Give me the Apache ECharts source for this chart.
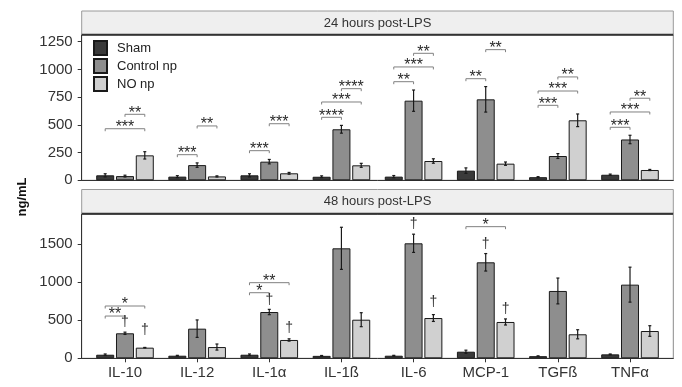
<!DOCTYPE html>
<html>
<head>
<meta charset="utf-8">
<script src="https://cdn.jsdelivr.net/npm/echarts@6/dist/echarts.min.js"></script>
<style>
html,body{margin:0;padding:0;background:#fff;}
#chart{width:682px;height:387px;}
</style>
</head>
<body>
<div id="chart"></div>
<script>
const categories = ['IL-10','IL-12','IL-1α','IL-1ß','IL-6','MCP-1','TGFß','TNFα'];
const groupNames = ['Sham','Control np','NO np'];

// 24 hours post-LPS
const sham24 = [45, 33, 45, 32, 33, 87, 28, 50];
const sham24Err = [14, 9, 14, 8, 10, 25, 5, 6];
const control24 = [38, 137, 168, 460, 718, 730, 219, 368];
const control24Err = [8, 20, 20, 35, 96, 115, 22, 38];
const no24 = [225, 35, 63, 135, 174, 150, 541, 93];
const no24Err = [33, 5, 8, 18, 20, 15, 57, 5];

// 48 hours post-LPS
const sham48 = [47, 34, 47, 32, 34, 87, 28, 52];
const sham48Err = [10, 5, 10, 5, 5, 20, 4, 5];
const control48 = [329, 390, 609, 1447, 1513, 1263, 886, 969];
const control48Err = [15, 115, 35, 277, 120, 115, 170, 230];
const no48 = [140, 148, 241, 508, 530, 478, 316, 359];
const no48Err = [3, 40, 15, 92, 45, 40, 60, 70];

// significance brackets: [category, fromGroup, toGroup, yValue]
const brackets24 = [
  [0,0,2,465],[0,1,2,595],
  [1,0,1,231],[1,1,2,490],
  [2,0,1,267],[2,1,2,510],
  [3,0,1,568],[3,0,2,706],[3,1,2,826],
  [4,0,1,889],[4,0,2,1022],[4,1,2,1145],
  [5,0,1,916],[5,1,2,1178],
  [6,0,1,676],[6,0,2,805],[6,1,2,932],
  [7,0,1,478],[7,0,2,616],[7,1,2,740]
];
const brackets24Labels = ['***','**','***','**','***','***','****','***','****','**','***','**','**','**','***','***','**','***','***','**'];
const brackets48 = [[0,0,1,556],[0,0,2,688],[2,0,1,863],[2,0,2,995],[5,0,2,1732]];
const brackets48Labels = ['**','*','*','**','*'];
// daggers: [category, group, yValue]
const daggers48 = [[0,1,482],[0,2,372],[2,1,767],[2,2,395],[4,1,1767],[4,2,745],[5,1,1504],[5,2,645]];

const yTicks24 = {max:1310, interval:250};
const yTicks48 = {max:1892, interval:500};

const colors = ['#3a3a3a','#8e8e8e','#d0d0d0'];
const BAR_W = 18, GAP = 0.1;
const FONT = 'Liberation Sans, Arial, sans-serif';

const chart = echarts.init(document.getElementById('chart'));

const frameL = 81.7, frameR = 682-673.3;
const unit = (673.3-81.7)/8.2;
const dataL = frameL + 0.1*unit, dataR = frameR + 0.1*unit;
const panels = [{top:35, height:145.3},{top:214.5, height:143.8}];

function offsetOf(g){ return (g-1)*BAR_W*(1+GAP); }

function errSeries(vals, errs, g, xi, yi){
  return {
    type:'custom', xAxisIndex:xi, yAxisIndex:yi, z:5, silent:true,
    data: vals.map((v,i)=>[i, v, errs[i]]),
    renderItem:function(params, api){
      const i = api.value(0), v = api.value(1), e = api.value(2);
      const x = api.coord([i, v])[0] + offsetOf(g);
      const yt = api.coord([i, v+e])[1], yb = api.coord([i, Math.max(v-e,0)])[1];
      return {type:'group', children:[
        {type:'line', shape:{x1:x,y1:yt,x2:x,y2:yb}, style:{stroke:'#1a1a1a',lineWidth:1.2}},
        {type:'line', shape:{x1:x-1.5,y1:yt,x2:x+1.5,y2:yt}, style:{stroke:'#1a1a1a',lineWidth:1.2}},
        {type:'line', shape:{x1:x-1.5,y1:yb,x2:x+1.5,y2:yb}, style:{stroke:'#1a1a1a',lineWidth:1.2}}
      ]};
    }
  };
}

function bracketSeries(br, labels, xi, yi){
  return {
    type:'custom', xAxisIndex:xi, yAxisIndex:yi, z:6, silent:true,
    data: br,
    renderItem:function(params, api){
      const c = api.value(0), f = api.value(1), t = api.value(2), v = api.value(3);
      const base = api.coord([c, v]);
      const x1 = base[0] + offsetOf(f), x2 = base[0] + offsetOf(t), y = base[1];
      return {type:'group', children:[
        {type:'polyline', shape:{points:[[x1,y+2.5],[x1,y],[x2,y],[x2,y+2.5]]}, style:{stroke:'#808080',lineWidth:1,fill:null}},
        {type:'text', style:{text:labels[params.dataIndex], x:(x1+x2)/2, y:y-1, align:'center', verticalAlign:'middle', font:'16px '+FONT, fill:'#2a2a2a'}}
      ]};
    }
  };
}

function daggerSeries(dg, xi, yi){
  return {
    type:'custom', xAxisIndex:xi, yAxisIndex:yi, z:6, silent:true,
    data: dg,
    renderItem:function(params, api){
      const c = api.value(0), g = api.value(1), v = api.value(2);
      const p = api.coord([c, v]);
      return {type:'text', style:{text:'†', x:p[0]+offsetOf(g), y:p[1], align:'center', verticalAlign:'middle', font:'14px '+FONT, fill:'#333'}};
    }
  };
}

function barSeries(name, vals, g, xi, yi){
  return {
    name:name, type:'bar', xAxisIndex:xi, yAxisIndex:yi, data:vals,
    barWidth:BAR_W, barGap:(GAP*100)+'%',
    itemStyle:{color:colors[g], borderColor:'#1a1a1a', borderWidth:1},
    silent:true
  };
}

function frameY(t, gi){
  return {type:'value', gridIndex:gi, min:0, max:t.max, interval:t.interval,
    axisLine:{show:true, lineStyle:{color:'#333', width:1}},
    axisTick:{show:true, length:4, lineStyle:{color:'#333'}},
    axisLabel:{show:true, margin:9, fontSize:15, color:'#333', fontFamily:FONT, showMaxLabel:false,
      formatter:function(v){ return String(v); }},
    splitLine:{show:false}};
}
function hiddenY(t, gi){
  return {type:'value', gridIndex:gi, min:0, max:t.max, interval:t.interval, show:false, splitLine:{show:false}};
}

const option = {
  animation:false,
  backgroundColor:'#fff',
  grid:[
    {left:frameL, right:frameR, top:panels[0].top, height:panels[0].height, show:true, borderColor:'#8a8a8a', borderWidth:1, backgroundColor:'#fff'},
    {left:frameL, right:frameR, top:panels[1].top, height:panels[1].height, show:true, borderColor:'#8a8a8a', borderWidth:1, backgroundColor:'#fff'},
    {left:dataL, right:dataR, top:panels[0].top, height:panels[0].height},
    {left:dataL, right:dataR, top:panels[1].top, height:panels[1].height}
  ],
  xAxis:[
    {type:'value', gridIndex:0, min:0, max:1, axisLine:{show:true,lineStyle:{color:'#333'}}, axisTick:{show:false}, axisLabel:{show:false}, splitLine:{show:false}},
    {type:'value', gridIndex:1, min:0, max:1, axisLine:{show:true,lineStyle:{color:'#333'}}, axisTick:{show:false}, axisLabel:{show:false}, splitLine:{show:false}},
    {type:'category', gridIndex:2, data:categories, axisLine:{show:false}, axisTick:{show:false}, axisLabel:{show:false}},
    {type:'category', gridIndex:3, data:categories, axisLine:{show:false},
      axisTick:{show:true, alignWithLabel:true, length:4, lineStyle:{color:'#333'}},
      axisLabel:{show:true, margin:7, fontSize:15, color:'#333', fontFamily:FONT}}
  ],
  yAxis:[ frameY(yTicks24,0), frameY(yTicks48,1), hiddenY(yTicks24,2), hiddenY(yTicks48,3) ],
  legend:{
    data:groupNames, orient:'vertical', left:88, top:35, itemWidth:13, itemHeight:14, itemGap:2,
    icon:'rect', selectedMode:false,
    textStyle:{fontSize:13, color:'#222', fontFamily:FONT, lineHeight:14, padding:[0,0,0,5]}
  },
  series:[
    barSeries('Sham', sham24, 0, 2, 2),
    barSeries('Control np', control24, 1, 2, 2),
    barSeries('NO np', no24, 2, 2, 2),
    barSeries('Sham', sham48, 0, 3, 3),
    barSeries('Control np', control48, 1, 3, 3),
    barSeries('NO np', no48, 2, 3, 3),
    errSeries(sham24, sham24Err, 0, 2, 2),
    errSeries(control24, control24Err, 1, 2, 2),
    errSeries(no24, no24Err, 2, 2, 2),
    errSeries(sham48, sham48Err, 0, 3, 3),
    errSeries(control48, control48Err, 1, 3, 3),
    errSeries(no48, no48Err, 2, 3, 3),
    bracketSeries(brackets24, brackets24Labels, 2, 2),
    bracketSeries(brackets48, brackets48Labels, 3, 3),
    daggerSeries(daggers48, 3, 3)
  ],
  graphic:[
    {type:'rect', shape:{x:81.7, y:11, width:673.3-81.7, height:23.5}, style:{fill:'#efefef', stroke:'#9a9a9a', lineWidth:1}, z:10},
    {type:'line', shape:{x1:81.7, y1:34.8, x2:673.3, y2:34.8}, style:{stroke:'#333', lineWidth:2}, z:11},
    {type:'text', style:{text:'24 hours post-LPS', x:377.5, y:23, align:'center', verticalAlign:'middle', font:'13px '+FONT, fill:'#333'}, z:12},
    {type:'rect', shape:{x:81.7, y:189.5, width:673.3-81.7, height:24}, style:{fill:'#efefef', stroke:'#9a9a9a', lineWidth:1}, z:10},
    {type:'line', shape:{x1:81.7, y1:213.8, x2:673.3, y2:213.8}, style:{stroke:'#333', lineWidth:2}, z:11},
    {type:'text', style:{text:'48 hours post-LPS', x:377.5, y:201.5, align:'center', verticalAlign:'middle', font:'13px '+FONT, fill:'#333'}, z:12},
    {type:'text', rotation:Math.PI/2, x:22, y:197, style:{text:'ng/mL', x:0, y:0, align:'center', verticalAlign:'middle', font:'bold 13px '+FONT, fill:'#111'}, z:12}
  ]
};
chart.setOption(option);
</script>
</body>
</html>
